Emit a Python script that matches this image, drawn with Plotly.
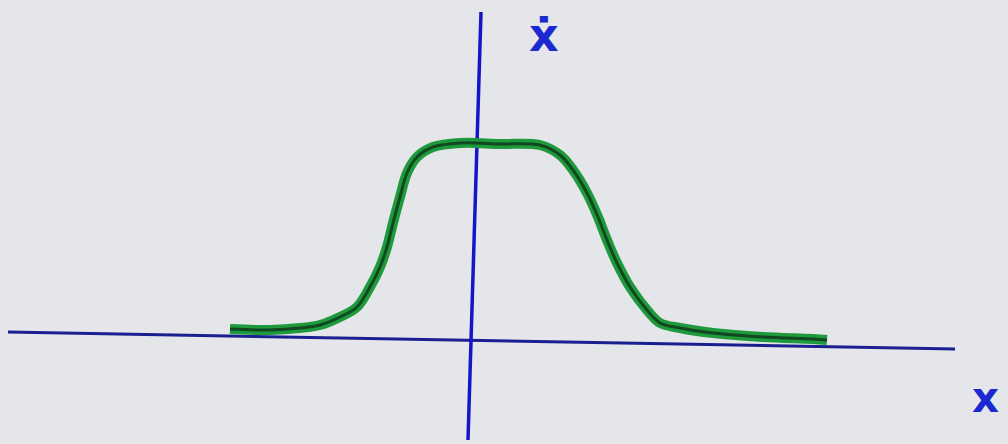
import plotly.graph_objects as go

# Sketch of velocity (x-dot) against position (x): a flat-topped bump.
# Coordinates are in sketch units with the origin where the two axes cross.
curve_x = [-241, -201, -171, -151, -131, -114, -101, -91, -84, -78, -71, -64,
           -54, -38, -11, 29, 69, 89, 102, 116, 127, 136, 146, 159, 176, 189,
           209, 242, 292, 342, 356]
curve_y = [11, 10, 12, 15, 23, 33, 53, 73, 93, 117, 143, 167, 183, 193, 197,
           196, 195, 185, 170, 147, 123, 100, 77, 53, 30, 17, 12, 7, 3, 1, 0]

# Hand-drawn axes: endpoints of the slightly tilted strokes
h_axis_x = [-463, 484]
h_axis_y = [8, -9]
v_axis_x = [10, -3]
v_axis_y = [328, -100]

axis_labels = ["ẋ", "x"]

fig = go.Figure()

fig.add_trace(go.Scatter(x=h_axis_x, y=h_axis_y, mode="lines",
                         line=dict(color="#1a1f8f", width=3), hoverinfo="skip"))
fig.add_trace(go.Scatter(x=v_axis_x, y=v_axis_y, mode="lines",
                         line=dict(color="#1414c8", width=3.5), hoverinfo="skip"))

# Green marker stroke with a darker core
fig.add_trace(go.Scatter(x=curve_x, y=curve_y, mode="lines",
                         line=dict(color="#1e9a3c", width=10, shape="spline", smoothing=1.0),
                         hoverinfo="skip"))
fig.add_trace(go.Scatter(x=curve_x, y=curve_y, mode="lines",
                         line=dict(color="#0f3a1c", width=3, shape="spline", smoothing=1.0),
                         opacity=0.85, hoverinfo="skip"))

fig.add_annotation(x=73, y=305, text="<b>" + axis_labels[0] + "</b>", showarrow=False,
                   font=dict(family="DejaVu Sans", size=46, color="#1a2ad0"))
fig.add_annotation(x=514, y=-57, text="<b>" + axis_labels[1] + "</b>", showarrow=False,
                   font=dict(family="DejaVu Sans", size=42, color="#1a2ad0"))

fig.update_layout(
    width=1008, height=444,
    margin=dict(l=0, r=0, t=0, b=0),
    paper_bgcolor="#e5e6ea", plot_bgcolor="#e5e6ea",
    showlegend=False,
    xaxis=dict(range=[-471, 537], visible=False, fixedrange=True),
    yaxis=dict(range=[-104, 340], visible=False, fixedrange=True),
)

fig.write_html("out.html")
